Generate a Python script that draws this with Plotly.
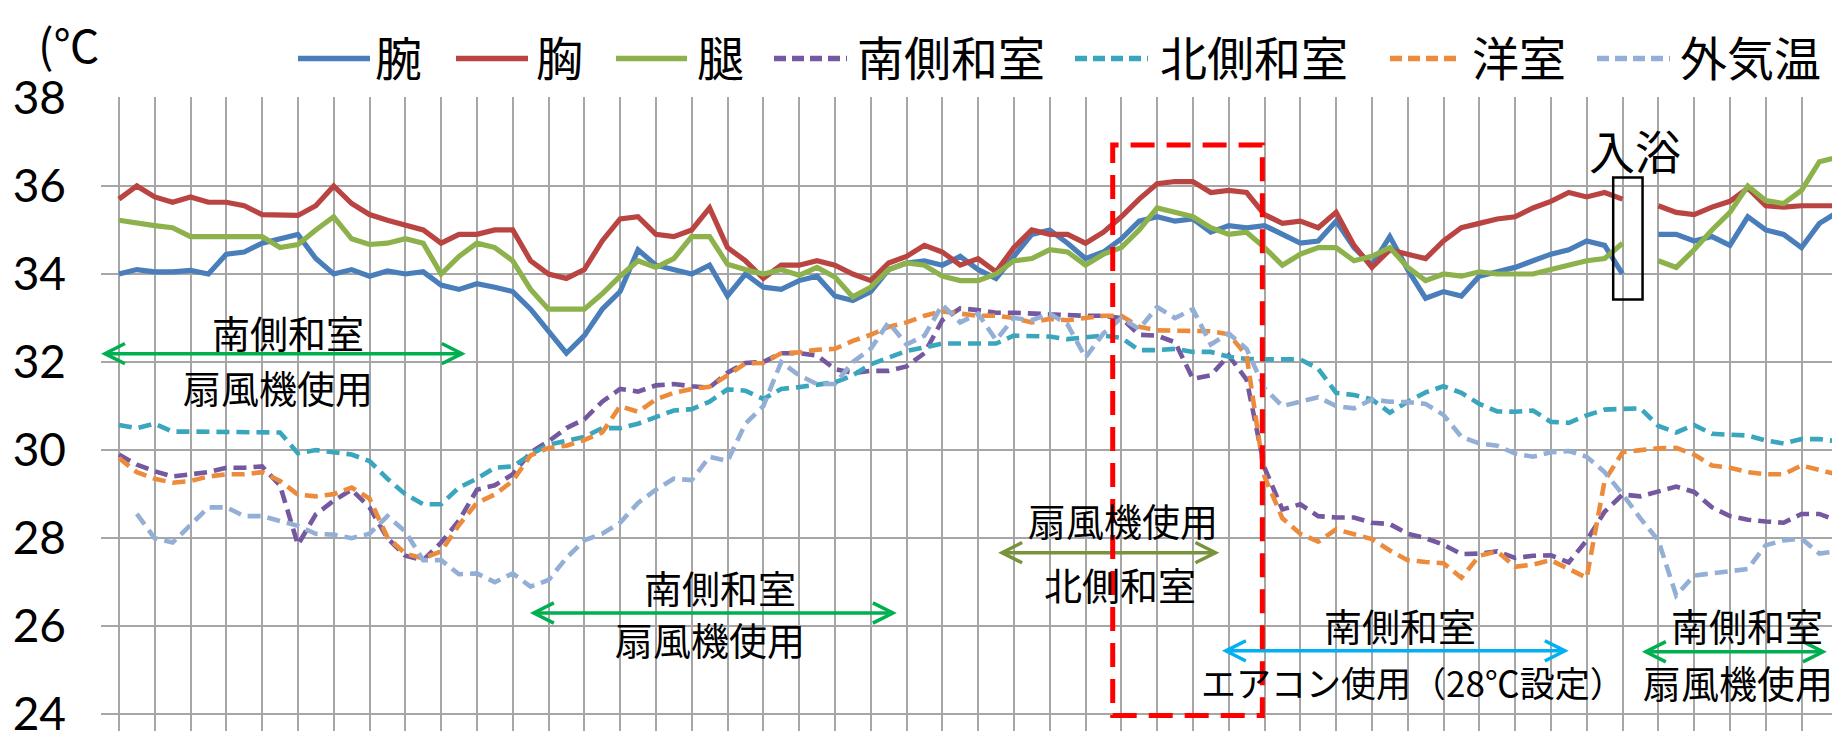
import plotly.graph_objects as go

# ---------------- data (x = grid index, one value every half grid) ----------------
step = 0.5
arm = [34.0, 34.1, 34.05, 34.05, 34.08, 34.0, 34.45, 34.5, 34.7, 34.8, 34.9, 34.35, 34.0, 34.1, 33.95, 34.07,
       34.0, 34.05, 33.75, 33.65, 33.78, 33.7, 33.6, 33.2, 32.7, 32.2, 32.6, 33.2, 33.6, 34.55, 34.2, 34.1,
       34.0, 34.2, 33.5, 34.0, 33.7, 33.65, 33.85, 33.95, 33.5, 33.4, 33.6, 34.1, 34.25, 34.3, 34.2, 34.4,
       34.1, 33.9, 34.4, 34.9, 35.0, 34.7, 34.35, 34.5, 34.8, 35.2, 35.3, 35.2, 35.25, 34.95, 35.1, 35.05,
       35.1, 34.9, 34.7, 34.75, 35.2, 34.6, 34.2, 34.85, 34.1, 33.45, 33.6, 33.5, 33.95, 34.05, 34.15, 34.3,
       34.45, 34.55, 34.75, 34.65, 34.0, None, 34.9, 34.9, 34.75, 34.85, 34.65, 35.3, 35.0, 34.9, 34.6, 35.15,
       35.4]
chest = [35.7, 36.0, 35.75, 35.63, 35.75, 35.63, 35.63, 35.55, 35.35, 35.33, 35.33, 35.55, 36.0, 35.6, 35.35, 35.22,
         35.1, 35.0, 34.7, 34.9, 34.9, 35.0, 35.0, 34.3, 34.0, 33.9, 34.1, 34.75, 35.25, 35.3, 34.9, 34.85,
         35.0, 35.5, 34.6, 34.3, 33.9, 34.2, 34.2, 34.3, 34.2, 34.0, 33.85, 34.25, 34.4, 34.65, 34.5, 34.2,
         34.35, 34.05, 34.6, 35.0, 34.9, 34.9, 34.7, 34.95, 35.3, 35.7, 36.05, 36.1, 36.1, 35.85, 35.9, 35.85,
         35.35, 35.15, 35.2, 35.05, 35.4, 34.65, 34.15, 34.55, 34.45, 34.35, 34.75, 35.05, 35.15, 35.25, 35.3, 35.5,
         35.65, 35.85, 35.75, 35.85, 35.7, None, 35.55, 35.4, 35.35, 35.52, 35.65, 35.95, 35.55, 35.52, 35.55, 35.55,
         35.55]
thigh = [35.22, 35.15, 35.1, 35.05, 34.85, 34.85, 34.85, 34.85, 34.85, 34.6, 34.67, 35.0, 35.3, 34.8, 34.67, 34.7,
         34.8, 34.7, 34.0, 34.4, 34.7, 34.6, 34.3, 33.65, 33.2, 33.2, 33.2, 33.55, 33.95, 34.3, 34.15, 34.35,
         34.85, 34.85, 34.22, 34.1, 34.0, 34.1, 33.97, 34.15, 33.93, 33.48, 33.7, 34.1, 34.25, 34.2, 33.95, 33.85,
         33.85, 34.0, 34.3, 34.35, 34.55, 34.5, 34.2, 34.45, 34.6, 35.0, 35.5, 35.4, 35.3, 35.05, 34.9, 34.95,
         34.6, 34.2, 34.45, 34.6, 34.6, 34.3, 34.4, 34.6, 34.15, 33.85, 34.0, 33.95, 34.05, 34.0, 34.0, 34.0,
         34.1, 34.2, 34.3, 34.35, 34.7, None, 34.3, 34.15, 34.55, 35.0, 35.4, 36.0, 35.67, 35.6, 35.9, 36.55,
         36.65]
south = [29.9, 29.67, 29.52, 29.4, 29.45, 29.5, 29.6, 29.6, 29.63, 29.2, 27.85, 28.54, 28.85, 29.1, 28.7, 28.0,
         27.6, 27.5, 27.9, 28.4, 29.1, 29.2, 29.45, 29.95, 30.2, 30.5, 30.7, 31.1, 31.39, 31.33, 31.47, 31.5,
         31.45, 31.42, 31.76, 31.98, 32.0, 32.2, 32.2, 32.15, 31.84, 31.75, 31.8, 31.8, 31.9, 32.2, 32.95, 33.22,
         33.18, 33.12, 33.12, 33.1, 33.07, 33.05, 33.05, 33.05, 33.0, 32.62, 32.6, 32.45, 31.62, 31.7, 32.15, 31.6,
         29.6, 28.65, 28.77, 28.5, 28.47, 28.47, 28.35, 28.32, 28.1, 28.0, 27.85, 27.64, 27.65, 27.7, 27.55, 27.6,
         27.61, 27.45, 27.95, 28.6, 28.99, 28.95, 29.05, 29.17, 29.05, 28.7, 28.5, 28.42, 28.38, 28.35, 28.55, 28.55,
         28.4]
north = [30.57, 30.5, 30.6, 30.42, 30.42, 30.42, 30.42, 30.42, 30.42, 30.4, 29.93, 30.0, 29.95, 29.9, 29.75, 29.35,
         29.0, 28.77, 28.77, 29.15, 29.35, 29.6, 29.63, 29.9, 30.12, 30.2, 30.3, 30.5, 30.5, 30.6, 30.75, 30.9,
         30.93, 31.1, 31.38, 31.35, 31.16, 31.39, 31.43, 31.48, 31.54, 31.7, 31.95, 32.1, 32.25, 32.33, 32.42, 32.42,
         32.42, 32.42, 32.6, 32.6, 32.58, 32.52, 32.55, 32.6, 32.55, 32.27, 32.27, 32.3, 32.23, 32.23, 32.12, 32.07,
         32.06, 32.06, 32.06, 31.85, 31.3, 31.25, 31.15, 30.85, 31.1, 31.31, 31.45, 31.3, 31.05, 30.88, 30.87, 30.9,
         30.64, 30.62, 30.79, 30.92, 30.94, 30.95, 30.55, 30.4, 30.57, 30.37, 30.35, 30.33, 30.22, 30.15, 30.25, 30.25,
         30.2]
western = [29.82, 29.5, 29.35, 29.26, 29.3, 29.4, 29.45, 29.45, 29.5, 29.3, 28.99, 28.95, 29.0, 29.15, 28.9, 28.02,
           27.65, 27.54, 27.7, 28.3, 28.8, 28.99, 29.3, 29.88, 30.05, 30.1, 30.23, 30.4, 31.0, 30.87, 31.15, 31.3,
           31.39, 31.44, 31.7, 31.97, 31.98, 32.2, 32.22, 32.28, 32.3, 32.48, 32.62, 32.8, 32.9, 33.05, 33.15, 33.1,
           33.05, 33.05, 33.0, 32.9, 32.98, 32.95, 33.0, 33.05, 33.05, 32.8, 32.72, 32.72, 32.72, 32.7, 32.63, 32.15,
           29.4, 28.45, 28.1, 27.92, 28.2, 28.1, 27.98, 27.72, 27.5, 27.46, 27.43, 27.1, 27.6, 27.7, 27.35, 27.4,
           27.5, 27.3, 27.1, 29.3, 29.95, 30.0, 30.04, 30.05, 29.9, 29.65, 29.6, 29.5, 29.45, 29.45, 29.65, 29.55,
           29.45]
outside = [None, 28.55, 28.0, 27.9, 28.3, 28.7, 28.7, 28.5, 28.5, 28.4, 28.28, 28.1, 28.08, 28.0, 28.1, 28.5,
           28.15, 27.5, 27.5, 27.18, 27.2, 27.0, 27.2, 26.9, 27.05, 27.55, 27.95, 28.1, 28.35, 28.8, 29.1, 29.35,
           29.32, 29.85, 29.75, 30.6, 31.0, 32.0, 31.7, 31.5, 31.5, 32.0, 32.3, 32.9, 32.4, 32.6, 33.3, 32.9,
           33.1, 32.5, 33.0, 32.95, 33.1, 32.85, 32.1, 32.65, 33.0, 32.75, 33.25, 33.0, 33.2, 32.4, 32.65, 32.3,
           31.4, 31.0, 31.1, 31.2, 31.0, 30.95, 31.15, 31.1, 31.09, 31.05, 30.8, 30.3, 30.15, 30.1, 29.92, 29.85,
           29.95, 29.98, 29.85, 29.5, 29.0, 28.45, 27.95, 26.7, 27.15, 27.2, 27.25, 27.3, 27.84, 27.95, 27.99, 27.65,
           27.7]

series_names = ["腕", "胸", "腿", "南側和室", "北側和室", "洋室", "外気温"]
series_vals = [arm, chest, thigh, south, north, western, outside]
series_colors = ["#4A7EBB", "#B94441", "#8DB24C", "#7459A0", "#3AA6BE", "#EC8B3C", "#94AFD6"]
series_dashed = [False, False, False, True, True, True, True]

y_ticks = [24, 26, 28, 30, 32, 34, 36, 38]

# annotation arrows: (x_start, x_end, y, colour, top text, top pos, bottom text, bottom pos)
arrows = [
    (-0.39, 9.58, 32.19, "#00B050", "南側和室", (4.71, 32.69), "扇風機使用", (4.44, 31.45)),
    (11.59, 21.62, 26.30, "#00B050", "南側和室", (16.78, 26.91), "扇風機使用", (16.5, 25.72)),
    (24.67, 30.63, 27.67, "#77933C", "扇風機使用", (28.04, 28.42), "北側和室", (27.95, 26.98)),
    (30.92, 40.39, 25.44, "#00B0F0", "南側和室", (35.79, 26.05), "エアコン使用（28℃設定）", (36.16, 24.75)),
    (42.65, 47.6, 25.42, "#00B050", "南側和室", (45.49, 26.05), "扇風機使用", (45.24, 24.75)),
]
red_box = (27.76, 31.94, 23.97, 36.93)
bath_box = (41.74, 42.56, 33.42, 36.19)
bath_label = ("入浴", 42.36, 36.85)

# ---------------- layout geometry ----------------
W, H = 1832, 740
L, T = 101, 97
x_range = [-0.5, -0.5 + (W - L) / 35.8]
y_range = [23.62, 38.02]
CJK = "Noto Sans CJK JP"


def px2paper(px, py):
    return (px - L) / (W - L), (H - py) / (H - T)


fig = go.Figure()
xs = [i * step for i in range(len(arm))]
for name, vals, col, dashed in zip(series_names, series_vals, series_colors, series_dashed):
    fig.add_trace(go.Scatter(
        x=xs, y=vals, mode="lines", name=name, showlegend=False, connectgaps=False,
        line=dict(color=col, width=4.6 if dashed else 5.2, dash="13px,7px" if dashed else "solid"),
    ))

shapes = []
annotations = []

# arrows with open chevron heads
dx, dy = 0.56, 0.23
for x0, x1, y, col, t1, p1, t2, p2 in arrows:
    shapes.append(dict(type="line", xref="x", yref="y", x0=x0, x1=x1, y0=y, y1=y,
                       line=dict(color=col, width=3.5)))
    shapes.append(dict(type="path", xref="x", yref="y",
                       path=f"M{x0+dx},{y+dy} L{x0},{y} L{x0+dx},{y-dy}",
                       line=dict(color=col, width=3.5)))
    shapes.append(dict(type="path", xref="x", yref="y",
                       path=f"M{x1-dx},{y+dy} L{x1},{y} L{x1-dx},{y-dy}",
                       line=dict(color=col, width=3.5)))
    for txt, (tx, ty) in ((t1, p1), (t2, p2)):
        size = 35 if len(txt) > 6 else 38
        annotations.append(dict(x=tx, y=ty, xref="x", yref="y", text=txt, showarrow=False,
                                font=dict(family=CJK, size=size, color="black")))

shapes.append(dict(type="rect", xref="x", yref="y", x0=red_box[0], x1=red_box[1],
                   y0=red_box[2], y1=red_box[3], line=dict(color="#FF0000", width=5, dash="24px,12px")))
shapes.append(dict(type="rect", xref="x", yref="y", x0=bath_box[0], x1=bath_box[1],
                   y0=bath_box[2], y1=bath_box[3], line=dict(color="black", width=2.5)))
annotations.append(dict(x=bath_label[1], y=bath_label[2], xref="x", yref="y", text=bath_label[0],
                        showarrow=False, font=dict(family=CJK, size=46, color="black")))

# custom legend
legend_pos = [(298, 370, 373), (456, 528, 534), (616, 687, 695), (774, 847, 855),
              (1075, 1148, 1158), (1390, 1460, 1470), (1597, 1670, 1678)]
for (lx0, lx1, tx), name, col, dashed in zip(legend_pos, series_names, series_colors, series_dashed):
    ax0, ay = px2paper(lx0, 58)
    ax1, _ = px2paper(lx1, 58)
    shapes.append(dict(type="line", xref="paper", yref="paper", x0=ax0, x1=ax1, y0=ay, y1=ay,
                       line=dict(color=col, width=5.5, dash="12px,6px" if dashed else "solid")))
    tpx, tpy = px2paper(tx, 55)
    annotations.append(dict(x=tpx, y=tpy, xref="paper", yref="paper", text=name, showarrow=False,
                            xanchor="left", yanchor="middle",
                            font=dict(family=CJK, size=47, color="black")))

ux, uy = px2paper(36, 42)
annotations.append(dict(x=ux, y=uy, xref="paper", yref="paper", text="(℃", showarrow=False,
                        xanchor="left", yanchor="middle", font=dict(family=CJK, size=46, color="black")))

fig.update_layout(
    width=W, height=H, autosize=False,
    margin=dict(l=L, r=0, t=T, b=0, pad=0),
    paper_bgcolor="white", plot_bgcolor="white",
    shapes=shapes, annotations=annotations, showlegend=False,
    xaxis=dict(range=x_range, tick0=0, dtick=1, showticklabels=False, ticks="",
               showgrid=True, gridcolor="#A6A6A6", gridwidth=1.6, zeroline=False, showline=False),
    yaxis=dict(range=y_range, tickvals=y_ticks, ticktext=[str(v) for v in y_ticks],
               showgrid=True, gridcolor="#A6A6A6", gridwidth=1.6, zeroline=False, showline=False,
               ticks="", ticklabelstandoff=34, ticklabeloverflow="allow",
               tickfont=dict(family="Lato", size=46, color="black")),
)

fig.write_html("out.html", config={"displayModeBar": False},
               post_script="document.body.style.margin='0';document.body.style.padding='0';"
                           "document.documentElement.style.overflow='hidden';")
